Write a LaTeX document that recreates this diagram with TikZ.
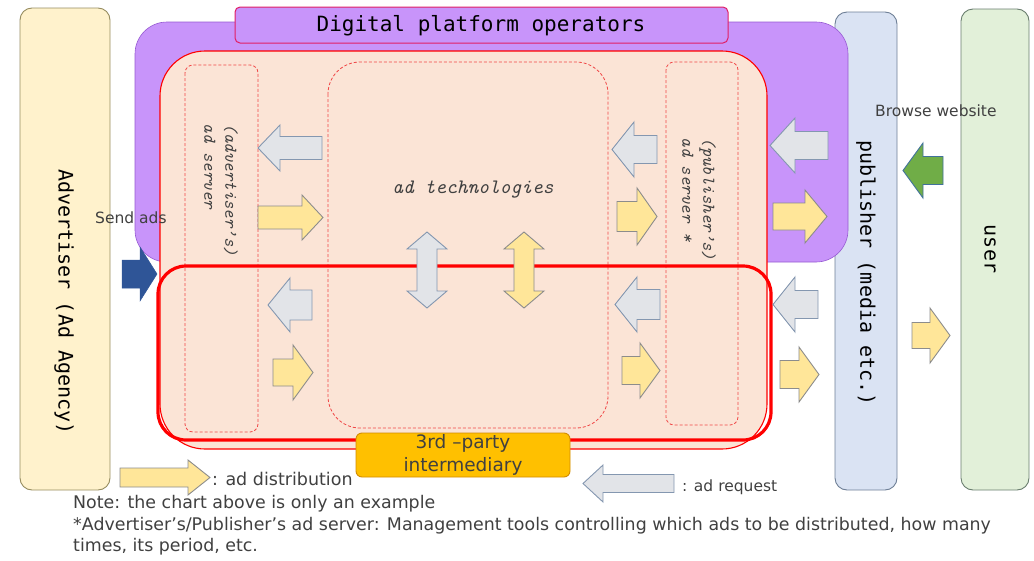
\documentclass[tikz,border=0pt]{standalone}
\usepackage{fontspec}
\setmainfont{DejaVu Sans}
\newfontfamily\monofont{DejaVu Sans Mono}
\definecolor{advfill}{RGB}{255,242,204}
\definecolor{advdraw}{RGB}{150,140,95}
\definecolor{pubfill}{RGB}{218,227,243}
\definecolor{pubdraw}{RGB}{110,127,150}
\definecolor{userfill}{RGB}{226,240,217}
\definecolor{userdraw}{RGB}{105,125,110}
\definecolor{purp}{RGB}{200,148,250}
\definecolor{purpdraw}{RGB}{150,90,210}
\definecolor{titledraw}{RGB}{225,30,100}
\definecolor{pinkfill}{RGB}{251,228,214}
\definecolor{dred}{RGB}{240,70,70}
\definecolor{grayfill}{RGB}{226,228,232}
\definecolor{graydraw}{RGB}{132,151,176}
\definecolor{yelfill}{RGB}{255,230,153}
\definecolor{yeldraw}{RGB}{140,140,140}
\definecolor{greenfill}{RGB}{112,173,71}
\definecolor{greendraw}{RGB}{65,113,156}
\definecolor{bluefill}{RGB}{47,85,151}
\definecolor{orfill}{RGB}{255,192,0}
\definecolor{ordraw}{RGB}{210,140,0}
\definecolor{txt}{RGB}{64,64,64}
\tikzset{
  sidebox/.style={rounded corners=12pt, line width=0.9pt},
  dashbox/.style={draw=dred, dash pattern=on 3pt off 2pt, line width=0.8pt},
  grayarr/.style={fill=grayfill, draw=graydraw, line width=0.9pt},
  yelarr/.style={fill=yelfill, draw=yeldraw, line width=0.9pt},
  greenarr/.style={fill=greenfill, draw=greendraw, line width=0.9pt},
  bluearr/.style={fill=bluefill, draw=bluefill, line width=0.5pt},
  monolab/.style={font=\monofont\fontsize{20}{24}\selectfont, text=black},
  itlab/.style={font=\ttfamily\itshape\fontsize{18}{21}\selectfont, text=txt},
  smalllab/.style={font=\fontsize{15.5}{17}\selectfont, text=txt},
  notelab/.style={font=\fontsize{17.4}{21}\selectfont, text=txt, anchor=west, inner sep=0pt}
}
\newcommand\blk[8]{%
  \begin{scope}[shift={(#2,#3)},rotate=#4]
  \filldraw[#1] ({-#5/2},{-#7/2}) -- ({#5/2-#8},{-#7/2}) -- ({#5/2-#8},{-#6/2}) -- ({#5/2},0) -- ({#5/2-#8},{#6/2}) -- ({#5/2-#8},{#7/2}) -- ({-#5/2},{#7/2}) -- cycle;
  \end{scope}}
\newcommand\dblk[7]{%
  \begin{scope}[shift={(#2,#3)}]
  \filldraw[#1] (0,{-#4/2}) -- ({#5/2},{-#4/2+#7}) -- ({#6/2},{-#4/2+#7}) -- ({#6/2},{#4/2-#7}) -- ({#5/2},{#4/2-#7}) -- (0,{#4/2}) -- ({-#5/2},{#4/2-#7}) -- ({-#6/2},{#4/2-#7}) -- ({-#6/2},{-#4/2+#7}) -- ({-#5/2},{-#4/2+#7}) -- cycle;
  \end{scope}}
\begin{document}
\begin{tikzpicture}[x=1pt,y=-1pt]
\useasboundingbox (0,0) rectangle (1034,560);
% side boxes
\draw[sidebox, fill=advfill, draw=advdraw] (20,8) rectangle (110,490);
\draw[sidebox, fill=pubfill, draw=pubdraw] (835,12) rectangle (897,490);
\draw[sidebox, fill=userfill, draw=userdraw] (961,9) rectangle (1029,490);
% purple region
\draw[fill=purp, draw=purpdraw, line width=0.6pt, rounded corners=32pt] (135,22) rectangle (848,262);
% title box
\draw[fill=purp, draw=titledraw, line width=1pt, rounded corners=5pt] (235,7) rectangle (728,43);
% pink box
\draw[fill=pinkfill, draw=red, line width=1.1pt, rounded corners=45pt] (160,51) rectangle (767,449);
% dashed boxes
\draw[dashbox, rounded corners=8pt] (185,65) rectangle (258,432);
\draw[dashbox, rounded corners=32pt] (328,62) rectangle (608,428);
\draw[dashbox, rounded corners=8pt] (666,62) rectangle (738,425);
% thick red box
\draw[draw=red, line width=3.2pt, rounded corners=28pt] (158,266) rectangle (771,440);
% arrows
\blk{grayarr}{290}{148}{180}{64}{46}{23}{22}
\blk{yelarr}{290.5}{217.5}{0}{65}{45}{23}{21}
\blk{grayarr}{290}{305}{180}{44}{54}{30}{22}
\blk{yelarr}{293}{372.5}{0}{40}{55}{27}{20}
\blk{grayarr}{634.5}{149.5}{180}{45}{55}{28}{22}
\blk{yelarr}{637}{216.5}{0}{40}{57}{30}{20}
\blk{grayarr}{637.5}{304.5}{180}{45}{55}{30}{22}
\blk{yelarr}{641}{370.5}{0}{38}{55}{28}{20}
\blk{grayarr}{799}{145.5}{180}{58}{55}{28}{25}
\blk{yelarr}{800}{216.5}{0}{54}{53}{27}{22}
\blk{grayarr}{795.5}{304.5}{180}{45}{55}{28}{22}
\blk{yelarr}{799.5}{374.5}{0}{39}{55}{28}{20}
\blk{greenarr}{923}{170.5}{180}{40}{55}{28}{20}
\blk{yelarr}{931}{335.5}{0}{38}{55}{26}{20}
\blk{bluearr}{139.5}{274}{0}{35}{54}{28}{17}
\blk{yelarr}{165}{477.5}{0}{90}{35}{19}{22}
\blk{grayarr}{628.5}{483.5}{180}{91}{37}{18}{20}
\dblk{grayarr}{427}{270}{76}{40}{20}{17}
\dblk{yelarr}{524}{270}{76}{40}{20}{17}
% 3rd party box
\node[draw=ordraw, fill=orfill, line width=0.9pt, rounded corners=6pt, minimum width=214pt, minimum height=44pt, inner sep=0pt, align=center, font=\fontsize{18.5}{23}\selectfont, text=txt] (third) at (463,455) {3rd –party\\intermediary};
% labels
\node[monolab, font=\monofont\fontsize{21}{24}\selectfont] (title) at (481,26) {Digital platform operators};
\node[monolab, rotate=-90] (adv) at (64,302) {Advertiser (Ad Agency)};
\node[monolab, rotate=-90] (pub) at (866,273) {publisher (media etc.)};
\node[monolab, rotate=-90] (user) at (990,249) {user};
\node[itlab, rotate=-90, align=left] (advsrv) at (221,190) {(advertiser’s)\\ad server};
\node[itlab, rotate=-90, align=left] (pubsrv) at (699,199) {(publisher’s)\\ad server *};
\node[itlab, font=\ttfamily\itshape\fontsize{20.5}{22}\selectfont] (adtech) at (473,190) {ad technologies};
\node[smalllab, anchor=west, inner sep=0pt] (send) at (95,218) {Send ads};
\node[smalllab, anchor=west, inner sep=0pt] (browse) at (875,111) {Browse website};
\node[notelab, font=\fontsize{17.5}{18}\selectfont] (leg1) at (212,479) {: ad distribution};
\node[notelab, font=\fontsize{15.5}{18}\selectfont] (leg2) at (682,487) {: ad request};
\node[notelab] (n1) at (73,504) {Note: the chart above is only an example};
\node[notelab] (n2) at (73,526) {*Advertiser’s/Publisher’s ad server: Management tools controlling which ads to be distributed, how many};
\node[notelab] (n3) at (73,547) {times, its period, etc.};
\end{tikzpicture}
\end{document}
